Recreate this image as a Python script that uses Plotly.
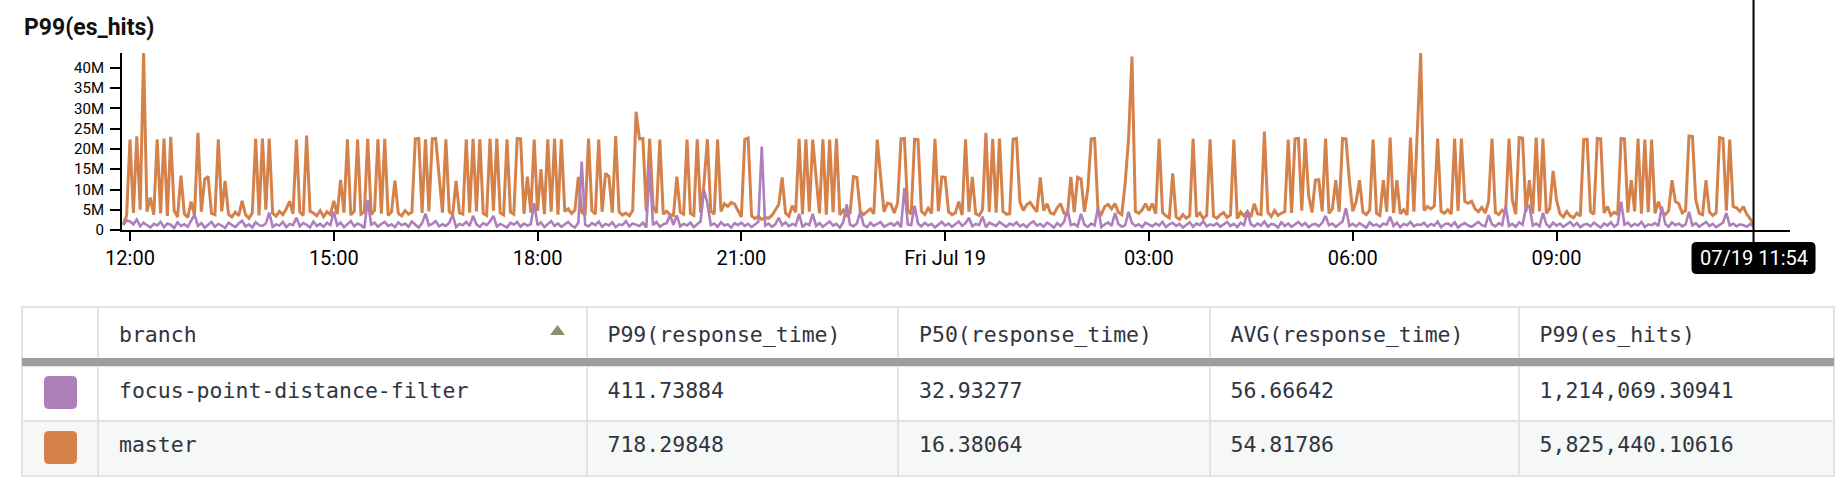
import pandas as pd
import plotly.graph_objects as go

W, H = 1843, 489

# ---------------- data ----------------
series_start = "2019-07-18 11:54"
series_step = "3min"

# P99(es_hits) in millions, master (3-minute points, one row per hour)
master_m = (
    [1.5, 3.5]
    + [22.3, 4.2, 23.1, 5.0, 43.7, 4.5, 8.0, 3.8, 22.4, 4.1, 22.6, 3.5, 23.0, 4.8, 3.2, 13.4, 4.0, 3.1, 7.0, 3.6]
    + [24.0, 4.5, 12.6, 13.2, 4.1, 3.8, 22.4, 4.6, 12.1, 3.9, 3.2, 4.4, 3.5, 7.2, 3.8, 2.9, 4.2, 22.5, 3.6, 22.6]
    + [5.0, 22.6, 4.1, 3.4, 4.6, 3.8, 5.2, 7.1, 4.0, 22.3, 4.4, 3.6, 23.3, 4.6, 4.2, 3.5, 4.8, 3.3, 4.5, 3.8]
    + [7.2, 3.9, 12.4, 4.3, 22.4, 3.7, 4.6, 22.3, 3.9, 4.4, 22.5, 3.8, 4.9, 22.4, 4.0, 22.5, 3.6, 4.5, 12.2, 4.1]
    + [3.5, 4.8, 3.9, 4.4, 22.5, 22.6, 4.2, 22.4, 4.6, 22.5, 22.6, 13.1, 4.3, 22.4, 4.5, 3.8, 12.1, 4.2, 3.9, 22.4]
    + [4.3, 22.5, 4.6, 22.4, 4.1, 3.6, 22.5, 4.8, 22.6, 4.2, 3.7, 22.4, 4.4, 3.9, 22.6, 22.5, 4.0, 13.2, 4.3, 22.3]
    + [4.7, 15.0, 3.9, 22.4, 4.5, 22.5, 3.8, 22.4, 4.6, 5.2, 4.1, 4.9, 13.1, 4.4, 3.7, 22.6, 4.8, 3.9, 22.3, 4.5]
    + [14.0, 13.2, 4.3, 23.2, 4.5, 3.7, 4.2, 3.5, 4.8, 29.2, 22.5, 22.6, 4.6, 22.5, 5.8, 4.2, 22.3, 3.9, 4.6, 3.8]
    + [3.6, 13.2, 4.4, 3.9, 22.3, 4.1, 3.6, 22.4, 4.3, 11.5, 22.4, 4.7, 3.9, 22.3, 4.6, 6.5, 5.8, 6.8, 6.4, 4.8]
    + [3.2, 22.4, 22.7, 3.5, 2.8, 3.4, 2.6, 3.1, 2.9, 3.6, 4.8, 6.3, 13.0, 4.2, 3.4, 6.0, 4.4, 22.5, 3.9, 22.4]
    + [4.5, 22.3, 13.0, 4.1, 22.4, 3.8, 22.3, 4.4, 22.6, 3.7, 4.9, 3.5, 4.2, 13.2, 13.0, 4.6, 3.8, 4.4, 5.2, 4.0]
    + [22.3, 13.2, 4.5, 6.6, 6.4, 4.2, 6.6, 22.5, 22.6, 4.8, 3.9, 22.4, 22.3, 4.6, 3.8, 5.4, 4.1, 22.5, 4.6, 13.1]
    + [13.0, 4.5, 3.8, 4.2, 7.0, 3.7, 22.4, 4.5, 13.1, 4.0, 3.6, 5.0, 24.0, 4.4, 22.5, 4.3, 22.6, 4.6, 3.9, 4.0]
    + [22.4, 22.6, 7.0, 4.8, 6.2, 6.8, 5.6, 4.5, 13.0, 4.8, 6.5, 4.2, 3.9, 5.5, 6.5, 4.1, 3.8, 13.1, 4.4, 13.0]
    + [12.6, 4.5, 10.0, 22.5, 22.6, 4.8, 3.9, 5.8, 6.3, 5.2, 6.5, 4.4, 3.8, 11.6, 22.5, 42.8, 4.6, 4.1, 5.0, 6.5]
    + [4.8, 6.5, 4.0, 22.5, 4.3, 3.5, 3.0, 14.0, 3.2, 2.6, 3.8, 2.9, 3.5, 22.5, 3.3, 4.2, 2.8, 3.6, 22.4, 3.4]
    + [2.9, 3.8, 4.3, 3.1, 3.7, 22.3, 2.8, 4.4, 3.5, 4.6, 3.2, 6.5, 4.0, 3.8, 24.3, 4.4, 3.3, 4.8, 3.6, 4.2]
    + [4.5, 22.3, 4.2, 22.5, 22.6, 4.8, 22.6, 8.6, 4.3, 12.3, 12.4, 4.6, 22.6, 4.1, 5.2, 12.3, 4.5, 22.6, 22.5, 12.3]
    + [4.6, 7.0, 12.3, 4.4, 3.8, 4.9, 22.3, 4.1, 3.6, 12.3, 4.5, 22.8, 4.2, 12.3, 4.0, 5.0, 3.7, 22.8, 4.5, 22.8]
    + [43.7, 4.8, 5.8, 5.2, 5.9, 22.6, 4.6, 4.1, 5.0, 3.9, 22.6, 4.7, 22.6, 7.0, 6.6, 7.1, 5.2, 4.5, 5.6, 4.2]
    + [7.0, 22.6, 4.3, 3.8, 4.9, 4.2, 22.6, 7.4, 3.9, 22.8, 22.7, 4.5, 12.3, 4.0, 22.8, 4.6, 22.6, 4.1, 5.3, 14.6]
    + [7.4, 4.0, 3.2, 4.6, 3.5, 3.0, 4.2, 3.4, 22.3, 22.4, 4.5, 3.9, 22.6, 22.5, 4.2, 5.8, 3.6, 4.4, 3.8, 22.6]
    + [22.5, 4.3, 12.3, 4.6, 22.6, 4.0, 22.3, 4.4, 22.3, 4.1, 7.0, 4.5, 3.8, 4.7, 12.3, 7.0, 6.5, 4.2, 4.8, 23.2]
    + [23.1, 7.4, 4.1, 3.8, 12.3, 4.5, 3.6, 4.2, 22.8, 22.6, 4.8, 22.3, 5.8, 5.5, 4.6, 5.8, 3.9, 2.8, 1.5]
)

# P99(es_hits) in millions, focus-point-distance-filter
focus_m = (
    [1.2, 2.4]
    + [2.1, 1.4, 2.6, 0.9, 1.8, 1.2, 0.6, 1.5, 1.1, 2.0, 0.7, 1.6, 1.3, 0.5, 1.9, 1.0, 1.4, 0.8, 2.2, 3.8]
    + [1.0, 1.7, 0.6, 1.3, 2.0, 0.8, 1.5, 1.1, 0.5, 1.8, 1.2, 0.7, 1.6, 2.3, 0.9, 1.4, 0.6, 1.9, 1.2, 1.0]
    + [1.6, 4.3, 0.8, 1.4, 1.1, 2.0, 0.7, 1.5, 1.2, 3.0, 0.9, 1.7, 1.3, 0.6, 2.1, 1.0, 1.5, 0.8, 1.8, 1.2]
    + [4.5, 1.1, 1.8, 0.7, 1.4, 2.2, 0.9, 1.6, 1.2, 0.5, 7.4, 1.3, 1.8, 0.8, 1.5, 2.0, 1.0, 1.4, 0.7, 1.9]
    + [1.2, 1.6, 0.8, 2.1, 1.3, 0.6, 1.7, 4.0, 1.1, 1.5, 2.2, 0.9, 1.4, 1.0, 1.8, 3.7, 0.7, 1.5, 1.2, 2.0]
    + [1.0, 3.5, 1.4, 0.8, 1.7, 1.2, 2.1, 3.5, 0.9, 1.5, 1.1, 0.6, 1.8, 1.3, 2.0, 0.8, 1.6, 1.1, 1.4, 6.6]
    + [1.2, 1.9, 0.7, 1.5, 2.2, 1.0, 1.6, 0.8, 1.4, 2.0, 1.1, 0.6, 1.8, 16.9, 1.3, 0.9, 1.7, 1.2, 2.1, 0.8]
    + [1.5, 1.1, 1.9, 0.7, 1.4, 1.2, 2.2, 0.9, 1.6, 1.3, 1.0, 1.8, 0.6, 15.3, 1.2, 2.0, 0.8, 1.4, 1.7, 3.7]
    + [1.3, 3.6, 0.9, 1.5, 1.1, 1.8, 0.7, 1.4, 2.1, 9.9, 6.6, 1.2, 1.6, 0.8, 1.9, 1.1, 1.4, 0.6, 1.7, 1.2]
    + [1.8, 1.0, 1.5, 0.7, 1.3, 2.0, 20.6, 1.1, 1.6, 0.8, 1.4, 3.0, 1.2, 1.9, 0.9, 1.5, 1.1, 4.0, 0.7, 1.6]
    + [1.2, 4.0, 1.0, 1.7, 0.8, 1.4, 2.1, 1.1, 1.5, 0.6, 1.9, 6.3, 1.3, 0.9, 1.6, 4.5, 1.2, 0.7, 1.8, 1.0]
    + [1.5, 2.0, 0.8, 1.3, 1.7, 1.1, 1.9, 0.7, 10.4, 1.4, 1.2, 6.0, 1.6, 0.9, 1.8, 1.1, 1.5, 0.6, 1.3, 2.0]
    + [1.1, 1.6, 0.8, 1.4, 2.1, 1.0, 1.7, 3.0, 0.9, 1.5, 1.2, 3.3, 0.7, 1.8, 1.3, 1.0, 2.0, 1.4, 0.8, 1.6]
    + [1.2, 1.9, 0.9, 1.4, 0.7, 1.6, 2.1, 1.1, 1.5, 0.8, 1.8, 1.3, 0.6, 1.7, 1.0, 2.0, 5.0, 1.2, 1.5, 0.9]
    + [4.0, 1.3, 0.8, 1.6, 1.1, 5.5, 0.7, 1.4, 1.9, 1.0, 4.2, 1.5, 0.8, 1.2, 4.5, 1.7, 1.0, 1.4, 0.7, 1.8]
    + [1.3, 0.9, 1.6, 1.1, 2.0, 0.7, 1.4, 1.8, 1.0, 1.5, 0.6, 1.3, 1.9, 0.8, 1.6, 1.2, 2.2, 0.9, 1.4, 1.1]
    + [1.7, 0.8, 1.3, 2.0, 1.0, 1.5, 0.7, 1.8, 1.2, 4.5, 1.4, 0.9, 1.6, 1.1, 2.1, 0.8, 1.5, 1.3, 0.6, 1.9]
    + [1.0, 1.6, 0.8, 1.4, 2.0, 1.1, 1.7, 0.7, 1.3, 1.5, 0.9, 1.8, 3.5, 1.2, 1.6, 0.8, 1.4, 2.1, 5.4, 1.0]
    + [1.5, 0.9, 1.7, 1.2, 0.6, 1.9, 1.1, 1.4, 0.8, 1.6, 1.3, 3.3, 1.0, 1.8, 0.7, 1.5, 1.2, 2.0, 0.9, 1.4]
    + [1.2, 1.8, 0.8, 1.5, 1.1, 2.1, 0.7, 1.4, 1.6, 1.0, 1.9, 0.6, 1.3, 1.7, 1.1, 0.8, 1.5, 2.0, 1.2, 0.9]
    + [3.7, 1.4, 0.9, 1.7, 1.2, 5.8, 1.0, 1.5, 0.8, 1.9, 1.3, 5.5, 6.0, 1.1, 1.6, 0.9, 4.2, 1.4, 0.7, 1.8]
    + [1.1, 1.6, 0.8, 1.4, 2.0, 1.0, 1.7, 0.7, 1.3, 1.5, 0.9, 1.8, 1.2, 0.6, 1.6, 1.1, 1.9, 0.8, 1.4, 7.0]
    + [1.3, 1.8, 0.9, 1.5, 1.1, 2.0, 0.7, 1.4, 1.2, 1.7, 1.0, 5.8, 1.5, 0.8, 1.9, 1.2, 1.6, 0.9, 1.4, 4.5]
    + [1.1, 1.7, 0.8, 1.4, 2.0, 1.0, 1.5, 0.7, 1.3, 1.8, 4.2, 1.1, 1.6, 0.9, 1.4, 1.2, 0.8, 1.5, 0.9]
)

y_tick_vals = [0, 5, 10, 15, 20, 25, 30, 35, 40]
y_tick_text = ["0", "5M", "10M", "15M", "20M", "25M", "30M", "35M", "40M"]
x_tick_vals = ["2019-07-18 12:00", "2019-07-18 15:00", "2019-07-18 18:00", "2019-07-18 21:00",
               "2019-07-19 00:00", "2019-07-19 03:00", "2019-07-19 06:00", "2019-07-19 09:00"]
x_tick_text = ["12:00", "15:00", "18:00", "21:00", "Fri Jul 19", "03:00", "06:00", "09:00"]
x_range = ["2019-07-18 11:52:56", "2019-07-19 12:26:13"]
y_range = [0, 43.7]
cursor_time = "2019-07-19 11:54"
cursor_label = "07/19 11:54"
chart_title = "P99(es_hits)"

branches = ["focus-point-distance-filter", "master"]
p99_response_time = [411.73884, 718.29848]
p50_response_time = [32.93277, 16.38064]
avg_response_time = [56.66642, 54.81786]
p99_es_hits = [1214069.30941, 5825440.10616]
table_columns = ["branch", "P99(response_time)", "P50(response_time)", "AVG(response_time)", "P99(es_hits)"]
branch_colors = {"focus-point-distance-filter": "#ad7fbb", "master": "#d5814a"}

# ---------------- helpers (pixel -> paper) ----------------
def PX(x):
    return x / W

def PY(y):
    return 1 - y / H

def rrect(x0, y0, x1, y1, r):
    return (f"M {PX(x0 + r)},{PY(y0)} L {PX(x1 - r)},{PY(y0)} Q {PX(x1)},{PY(y0)} {PX(x1)},{PY(y0 + r)} "
            f"L {PX(x1)},{PY(y1 - r)} Q {PX(x1)},{PY(y1)} {PX(x1 - r)},{PY(y1)} "
            f"L {PX(x0 + r)},{PY(y1)} Q {PX(x0)},{PY(y1)} {PX(x0)},{PY(y1 - r)} "
            f"L {PX(x0)},{PY(y0 + r)} Q {PX(x0)},{PY(y0)} {PX(x0 + r)},{PY(y0)} Z")

PLOT_X0, PLOT_X1 = 122, 1790
PLOT_Y0, PLOT_Y1 = 53, 230

fig = go.Figure()

for name, vals, lw in [("master", master_m, 3), ("focus-point-distance-filter", focus_m, 2.6)]:
    xs = pd.date_range(series_start, periods=len(vals), freq=series_step)
    fig.add_trace(go.Scatter(
        x=xs, y=vals, mode="lines", name=name,
        line=dict(color=branch_colors[name], width=lw),
        hoverinfo="skip", showlegend=False,
    ))

fig.update_xaxes(
    type="date", range=x_range, domain=[PX(PLOT_X0), PX(PLOT_X1)], automargin=False,
    tickmode="array", tickvals=x_tick_vals, ticktext=x_tick_text,
    showline=True, linecolor="black", linewidth=2,
    ticks="outside", ticklen=9, tickwidth=2, tickcolor="black",
    showgrid=False, zeroline=False,
    tickfont=dict(family="Roboto", size=20, color="black"),
)
fig.update_yaxes(
    range=y_range, domain=[PY(PLOT_Y1), PY(PLOT_Y0)], automargin=False,
    tickmode="array", tickvals=y_tick_vals, ticktext=y_tick_text,
    showline=True, linecolor="black", linewidth=2,
    ticks="outside", ticklen=10, tickwidth=2, tickcolor="black",
    ticklabelstandoff=3,
    showgrid=False, zeroline=False,
    tickfont=dict(family="Roboto", size=15, color="black"),
)

# ---------------- table ----------------
NB = "\u00a0"
mono = dict(family="DejaVu Sans Mono", size=21.5, color="#30353f")
col_widths = [76, 488.5, 311.5, 311.5, 309, 315.4]
grid_line = dict(color="#e3e3e3", width=2)
clear = "rgba(0,0,0,0)"

# grid: borders and row fills
fig.add_trace(go.Table(
    domain=dict(x=[PX(22), PX(1834)], y=[PY(482), PY(307)]),
    columnwidth=col_widths,
    header=dict(values=["" for _ in range(6)], height=59, fill_color="white", line=grid_line),
    cells=dict(values=[["" for _ in branches] for _ in range(6)], height=55,
               fill_color=[["#ffffff", "#f6f8f8"]], line=grid_line),
))
# text layer (same columns, vertically centred in the rows)
fig.add_trace(go.Table(
    domain=dict(x=[PX(22), PX(1834)], y=[0, PY(317.5)]),
    columnwidth=col_widths,
    header=dict(
        values=[""] + [NB + c for c in table_columns],
        height=56.5, align="left", fill_color=clear,
        line=dict(color=clear, width=0), font=mono,
    ),
    cells=dict(
        values=[
            ["" for _ in branches],
            [NB + b for b in branches],
            [NB + f"{v:.5f}" for v in p99_response_time],
            [NB + f"{v:.5f}" for v in p50_response_time],
            [NB + f"{v:.5f}" for v in avg_response_time],
            [NB + f"{v:,.5f}" for v in p99_es_hits],
        ],
        height=54, align="left", fill_color=clear,
        line=dict(color=clear, width=0), font=mono,
    ),
))

shapes = []
# thick header separator
shapes.append(dict(type="rect", xref="paper", yref="paper", x0=PX(22), x1=PX(1834),
                   y0=PY(366), y1=PY(358), fillcolor="#9e9e9e", line=dict(width=0), layer="above"))
# sort arrow
shapes.append(dict(type="path", xref="paper", yref="paper",
                   path=f"M {PX(550)},{PY(335)} L {PX(565)},{PY(335)} L {PX(557.5)},{PY(325)} Z",
                   fillcolor="#8b8f6e", line=dict(width=0)))
# colour swatches
for i, b in enumerate(branches):
    top = 376 + i * 55
    shapes.append(dict(type="path", xref="paper", yref="paper", path=rrect(44, top, 77, top + 33, 5),
                       fillcolor=branch_colors[b], line=dict(width=0)))

# cursor line and label
t0, t1 = pd.Timestamp(x_range[0]), pd.Timestamp(x_range[1])
tc = pd.Timestamp(cursor_time)
cx = PLOT_X0 + (tc - t0) / (t1 - t0) * (PLOT_X1 - PLOT_X0)
shapes.append(dict(type="line", xref="x", yref="paper", x0=cursor_time, x1=cursor_time,
                   y0=PY(243), y1=1, line=dict(color="black", width=2)))
shapes.append(dict(type="path", xref="paper", yref="paper", path=rrect(cx - 62, 242, cx + 62, 274, 5),
                   fillcolor="black", line=dict(width=0)))

annotations = [
    dict(text=cursor_label, x=cursor_time, xref="x", y=PY(258), yref="paper",
         xanchor="center", yanchor="middle", showarrow=False,
         font=dict(family="Roboto", size=20, color="white")),
    dict(text=chart_title, x=PX(22), xref="paper", y=PY(27), yref="paper",
         xanchor="left", yanchor="middle", showarrow=False,
         font=dict(family="Roboto", size=23, color="#111111", weight="bold")),
]

fig.update_layout(
    template="none",
    width=W, height=H, margin=dict(l=0, r=0, t=0, b=0, pad=0, autoexpand=False),
    paper_bgcolor="white", plot_bgcolor="white",
    shapes=shapes, annotations=annotations, showlegend=False,
)

fig.write_html("out.html", config={"displayModeBar": False},
               post_script="document.body.style.margin='0';")
